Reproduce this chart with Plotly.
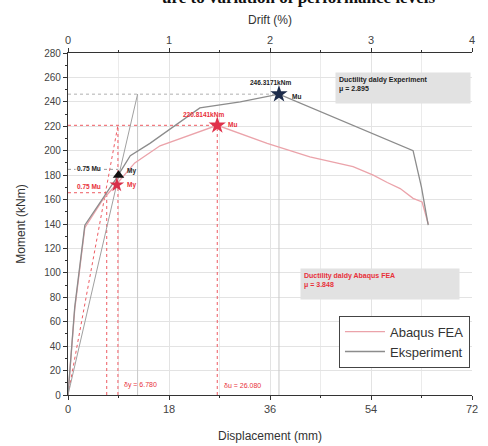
import plotly.graph_objects as go

# ---- data ----
fea_disp = [0, 1.2, 3.0, 6.2, 8.9, 11.9, 16.4, 21.7, 26.6, 35.5, 43.1, 50.8, 54.4, 56.9, 59.2, 61.5, 63.1, 63.6, 64.2]
fea_mom = [0, 70, 137, 160, 174, 190, 204, 213, 220.8, 206, 195, 187, 180, 174, 169, 161, 158, 150, 140]

exp_disp = [0, 1.2, 3.0, 8.4, 11.1, 14.6, 23.5, 30.7, 37.6, 61.5, 63.0, 64.2]
exp_mom = [0, 72, 139, 176, 196, 206, 235, 240, 246.3, 200, 170, 139]

# key points
fea_mu, fea_du = 220.8, 26.6
fea_075_d, fea_dy = 6.9, 8.9
exp_mu, exp_du = 246.3, 37.6
exp_075_d, exp_dy = 8.9, 12.4
fea_my_pt = (8.7, 172)
exp_my_pt = (9.0, 180)

x_ticks = [0, 18, 36, 54, 72]
y_ticks = list(range(0, 281, 20))
drift_ticks = [0, 1, 2, 3, 4]

PINK = "#eba3aa"
GRAY = "#8c8c8c"
RED = "#e8303a"
REDDOT = "#ee5a62"
FONT = "Arial, Liberation Sans, sans-serif"

fig = go.Figure()

def guide(x, y, color, dash="dot"):
    fig.add_trace(go.Scatter(x=x, y=y, mode="lines", line=dict(color=color, width=1, dash=dash),
                             showlegend=False, hoverinfo="skip"))

# guide (dotted) lines - FEA
guide([0, fea_du], [fea_mu, fea_mu], REDDOT)
guide([0, fea_075_d], [0.75 * fea_mu, 0.75 * fea_mu], REDDOT)
guide([fea_du, fea_du], [0, fea_mu], REDDOT)
guide([fea_075_d, fea_075_d], [0, 0.75 * fea_mu], REDDOT)
guide([fea_dy, fea_dy], [0, fea_mu], REDDOT)
guide([0, fea_dy], [0, fea_mu], REDDOT)

# guide lines - experiment
guide([0, exp_du], [exp_mu, exp_mu], "#b0b0b0")
guide([0, exp_075_d], [0.75 * exp_mu, 0.75 * exp_mu], "#999999")
guide([exp_du, exp_du], [0, exp_mu], "#c8c8c8", "solid")
guide([exp_dy, exp_dy], [0, exp_mu], "#c8c8c8", "solid")
guide([0, exp_dy], [0, exp_mu], "#a0a0a0", "solid")

# main curves
fig.add_trace(go.Scatter(x=fea_disp, y=fea_mom, mode="lines", name="Abaqus FEA",
                         line=dict(color=PINK, width=1.3)))
fig.add_trace(go.Scatter(x=exp_disp, y=exp_mom, mode="lines", name="Eksperiment",
                         line=dict(color=GRAY, width=1.3)))

# markers
fig.add_trace(go.Scatter(x=[exp_du], y=[exp_mu], mode="markers", showlegend=False,
                         marker=dict(symbol="star", size=13, color="#1c2b4a")))
fig.add_trace(go.Scatter(x=[fea_du], y=[fea_mu], mode="markers", showlegend=False,
                         marker=dict(symbol="star", size=13, color="#e0304a")))
fig.add_trace(go.Scatter(x=[exp_my_pt[0]], y=[exp_my_pt[1]], mode="markers", showlegend=False,
                         marker=dict(symbol="triangle-up", size=10, color="#111111")))
fig.add_trace(go.Scatter(x=[fea_my_pt[0]], y=[fea_my_pt[1]], mode="markers", showlegend=False,
                         marker=dict(symbol="star", size=11, color="#d8304a")))

# invisible trace for top axis
fig.add_trace(go.Scatter(x=drift_ticks, y=[0] * len(drift_ticks), xaxis="x2", mode="markers",
                         marker=dict(opacity=0), showlegend=False, hoverinfo="skip"))

small = dict(family=FONT, size=6.5)
ann = [
    dict(x=exp_du - 1.5, y=exp_mu + 5, text="<b>246.3171kNm</b>", showarrow=False,
         font=dict(color="#222", **small), xanchor="center", yanchor="bottom"),
    dict(x=exp_du + 2.0, y=exp_mu - 2, text="<b>Mu</b>", showarrow=False,
         font=dict(color="#222", **small), xanchor="left", yanchor="middle"),
    dict(x=fea_du - 2.5, y=fea_mu + 4, text="<b>220.8141kNm</b>", showarrow=False,
         font=dict(color=RED, **small), xanchor="center", yanchor="bottom"),
    dict(x=fea_du + 1.5, y=fea_mu + 1, text="<b>Mu</b>", showarrow=False,
         font=dict(color=RED, **small), xanchor="left", yanchor="middle"),
    dict(x=1.2, y=0.75 * exp_mu + 1, text="<b>0.75 Mu</b>", showarrow=False, bgcolor="rgba(255,255,255,0.85)",
         font=dict(color="#222", **small), xanchor="left", yanchor="middle"),
    dict(x=1.2, y=0.75 * fea_mu + 5, text="<b>0.75 Mu</b>", showarrow=False, bgcolor="rgba(255,255,255,0.85)",
         font=dict(color=RED, **small), xanchor="left", yanchor="middle"),
    dict(x=10.2, y=exp_my_pt[1] + 3, text="<b>My</b>", showarrow=False,
         font=dict(color="#222", **small), xanchor="left", yanchor="middle"),
    dict(x=10.2, y=fea_my_pt[1], text="<b>My</b>", showarrow=False,
         font=dict(color=RED, **small), xanchor="left", yanchor="middle"),
    dict(x=fea_dy + 0.7, y=8, text="δy = 6.780", showarrow=False,
         font=dict(color=RED, family=FONT, size=7), xanchor="left", yanchor="middle"),
    dict(x=fea_du + 0.8, y=8, text="δu = 26.080", showarrow=False,
         font=dict(color=RED, family=FONT, size=7), xanchor="left", yanchor="middle"),
    dict(xref="paper", yref="paper", x=0.661, y=0.944, xanchor="left", yanchor="top",
         text="<b>Ductility daldy Experiment<br>μ = 2.895</b>", showarrow=False, align="left",
         bgcolor="#e2e2e2", width=128, height=24, valign="top", borderpad=3,
         font=dict(color="#222", family=FONT, size=7)),
    dict(xref="paper", yref="paper", x=0.574, y=0.371, xanchor="left", yanchor="top",
         text="<b>Ductility daldy Abaqus FEA<br>μ = 3.848</b>", showarrow=False, align="left",
         bgcolor="#e2e2e2", width=152, height=24, valign="top", borderpad=3,
         font=dict(color=RED, family=FONT, size=7)),
    dict(xref="paper", yref="paper", x=0.57, y=1.163, xanchor="center", yanchor="middle",
         text="<b>ure to variation of performance levels</b>", showarrow=False,
         font=dict(color="#111", family="Liberation Serif, serif", size=17)),
]

axis_common = dict(showline=True, linecolor="#333", linewidth=1.2, ticks="outside", ticklen=4,
                   tickcolor="#333", zeroline=False, automargin=False)

fig.update_layout(
    width=488, height=446,
    margin=dict(l=68, r=16, t=53, b=51),
    plot_bgcolor="white", paper_bgcolor="white",
    font=dict(family=FONT, color="#333"),
    annotations=ann,
    xaxis=dict(range=[0, 72], tickvals=x_ticks,
               title=dict(text="Displacement (mm)", font=dict(size=12, color="#333"), standoff=17),
               tickfont=dict(family=FONT, size=11, color="#444"),
               showgrid=True, gridcolor="#e3e3e3", gridwidth=1,
               minor=dict(dtick=9, tick0=0, showgrid=True, gridcolor="#ebebeb", ticks="outside", ticklen=2, tickcolor="#333"),
               **axis_common),
    xaxis2=dict(range=[0, 4], tickvals=drift_ticks, overlaying="x", side="top", anchor="y",
                title=dict(text="Drift (%)", font=dict(size=12, color="#333"), standoff=6),
                tickfont=dict(family=FONT, size=11, color="#444"),
                showgrid=False,
                minor=dict(dtick=0.5, tick0=0, ticks="outside", ticklen=2, tickcolor="#333"),
                **axis_common),
    yaxis=dict(range=[0, 280], tickvals=y_ticks,
               title=dict(text="Moment (kNm)", font=dict(size=12, color="#333"), standoff=16),
               showgrid=True, gridcolor="#e3e3e3", gridwidth=1,
               minor=dict(dtick=10, tick0=0, ticks="outside", ticklen=2, tickcolor="#333"),
               tickfont=dict(family=FONT, size=10, color="#444"),
               **axis_common),
    legend=dict(x=0.995, y=0.08, xanchor="right", yanchor="bottom", bgcolor="white",
                bordercolor="#444", borderwidth=1, font=dict(family=FONT, size=13, color="#333"),
                tracegroupgap=0, itemwidth=40),
    showlegend=True,
)

fig.write_html("out.html")
